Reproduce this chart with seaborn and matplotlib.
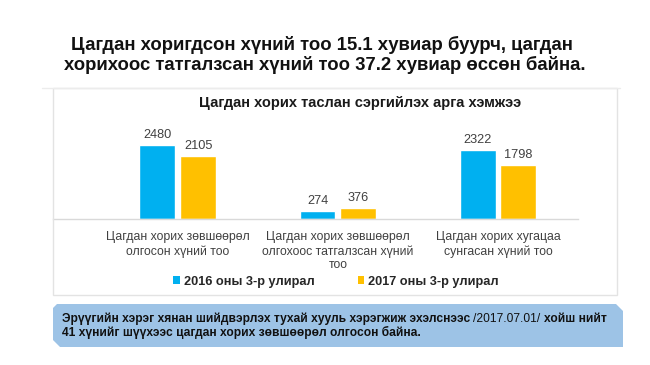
import matplotlib
matplotlib.use("Agg")
import matplotlib.pyplot as plt
from matplotlib.patches import Patch, Polygon, Rectangle
import seaborn as sns
import pandas as pd

# ---- data ----
categories = [
    "Цагдан хорих зөвшөөрөл\nолгосон хүний тоо",
    "Цагдан хорих зөвшөөрөл\nолгохоос татгалзсан хүний\nтоо",
    "Цагдан хорих хугацаа\nсунгасан хүний тоо",
]
series_names = ["2016 оны 3-р улирал", "2017 оны 3-р улирал"]
values_2016 = [2480, 274, 2322]
values_2017 = [2105, 376, 1798]
colors = ["#00B0F0", "#FFC000"]

title_lines = [
    "Цагдан хоригдсон хүний тоо 15.1 хувиар буурч, цагдан",
    "хорихоос татгалзсан хүний тоо 37.2 хувиар өссөн байна.",
]
chart_title = "Цагдан хорих таслан сэргийлэх арга хэмжээ"
note_parts = [
    ("Эрүүгийн хэрэг хянан шийдвэрлэх тухай хууль хэрэгжиж эхэлснээс", "bold"),
    ("/2017.07.01/", "normal"),
    ("хойш нийт", "bold"),
]
note_line2 = "41 хүнийг шүүхээс цагдан хорих зөвшөөрөл олгосон байна."

df = pd.DataFrame({
    "cat": categories * 2,
    "series": [series_names[0]] * 3 + [series_names[1]] * 3,
    "value": values_2016 + values_2017,
})

sns.set_style("white")
plt.rcParams["font.family"] = ["Liberation Sans", "DejaVu Sans"]

W, H = 650, 365
fig = plt.figure(figsize=(W / 100, H / 100), dpi=100)
fig.patch.set_facecolor("white")

def fx(px):
    return px / W

def fy(py):
    return 1 - py / H

# chart frame
fig.patches.append(Rectangle((fx(53), fy(295)), fx(617) - fx(53), fy(88) - fy(295),
                             transform=fig.transFigure, fill=False,
                             edgecolor="#e3e3e3", linewidth=1.0))

ax = fig.add_axes([fx(53), fy(219.3), fx(578) - fx(53), fy(120) - fy(219.3)])
sns.barplot(data=df, x="cat", y="value", hue="series", palette=colors,
            width=0.51, gap=0.12, ax=ax, legend=False, saturation=1)
ax.set_xlim(-0.78, 2.5)
ax.set_ylim(0, 3314)
for c in ax.containers:
    ax.bar_label(c, padding=3, fontsize=9.2, color="#404040")
ax.set_xlabel("")
ax.set_ylabel("")
ax.set_yticks([])
for s in ["top", "right", "left"]:
    ax.spines[s].set_visible(False)
ax.spines["bottom"].set_color("#d9d9d9")
ax.spines["bottom"].set_linewidth(1.0)
ax.tick_params(axis="x", length=0, pad=8.5)
ax.set_xticks(range(len(categories)))
ax.set_xticklabels(categories, fontsize=8.8, color="#404040", linespacing=1.2)
ax.patch.set_alpha(0)

# titles
fig.text(fx(322), fy(50), title_lines[0], ha="center", va="baseline",
         fontsize=13.3, fontweight="bold", color="#111111")
fig.text(fx(324.5), fy(69.5), title_lines[1], ha="center", va="baseline",
         fontsize=13.3, fontweight="bold", color="#111111")
fig.text(fx(360), fy(103), chart_title, ha="center", va="center",
         fontsize=10.5, fontweight="bold", color="#1a1a1a")
# separator line under title
fig.add_artist(plt.Line2D([fx(42), fx(620)], [fy(88), fy(88)],
                          transform=fig.transFigure, color="#ececec", lw=1))

# legend
handles = [Patch(facecolor=colors[i], edgecolor="none", label=series_names[i]) for i in range(2)]
fig.legend(handles=handles, loc="center", bbox_to_anchor=(fx(336), fy(281.5)), ncol=2,
           frameon=False, prop={"weight": "bold", "size": 9.2},
           handlelength=0.5, handleheight=0.5, handletextpad=0.3,
           columnspacing=3.4, borderpad=0)

# bottom note box
poly = Polygon([(fx(53), fy(308)), (fx(57), fy(304)), (fx(616), fy(304)),
                (fx(623), fy(311)), (fx(623), fy(347)), (fx(60), fy(347)),
                (fx(53), fy(340))], closed=True, transform=fig.transFigure,
               facecolor="#9DC3E6", edgecolor="none")
fig.patches.append(poly)

fig.canvas.draw()
renderer = fig.canvas.get_renderer()
x = fx(62)
y1 = fy(322)
space = 3.2
for txt, wt in note_parts:
    t = fig.text(x, y1, txt, ha="left", va="baseline", fontsize=8.65,
                 fontweight=wt, color="#111111")
    bb = t.get_window_extent(renderer)
    x = (bb.x1 + space) / W
fig.text(fx(62), fy(336), note_line2, ha="left", va="baseline", fontsize=8.65,
         fontweight="bold", color="#111111")

fig.savefig("out.png", dpi=100, facecolor="white")
